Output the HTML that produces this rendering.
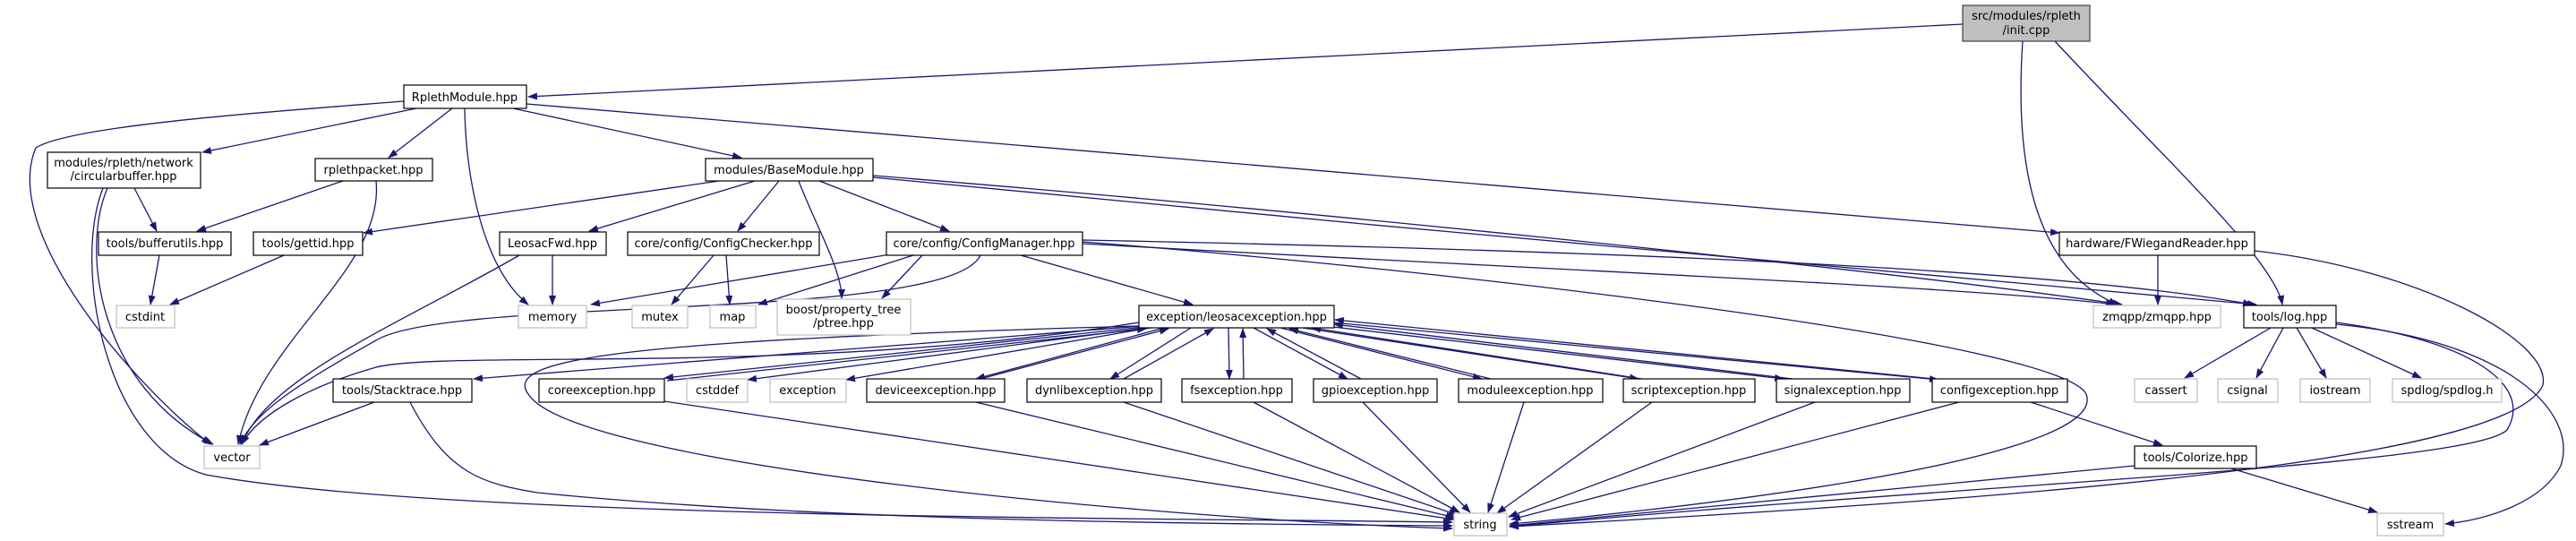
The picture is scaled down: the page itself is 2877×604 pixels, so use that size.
<!DOCTYPE html>
<html><head><meta charset="utf-8"><style>
html,body{margin:0;padding:0;background:#fff;}
svg{display:block}
text{font-family:"DejaVu Sans","Liberation Sans",sans-serif;font-size:13px;fill:#000}
.e{fill:none;stroke:#191970;stroke-width:1.3}
.n{fill:#fff;stroke:#000;stroke-width:1.2}
.g{fill:#fff;stroke:#bfbfbf;stroke-width:1.2}
</style></head><body>
<svg width="2877" height="604" viewBox="0 0 2877 604" xmlns="http://www.w3.org/2000/svg">
<defs><marker id="a" markerWidth="11" markerHeight="8" refX="10" refY="4" orient="auto" markerUnits="userSpaceOnUse"><path d="M0,0 L11,4 L0,8 z" fill="#191970"/></marker></defs>
<g class="e" marker-end="url(#a)">
<path d="M2192,27 L590,108"/>
<path d="M2259,46 C2250,180 2270,300 2365,340"/>
<path d="M2295,46 C2420,180 2540,290 2549,340"/>
<path d="M451,113 C300,125 80,140 40,165 C0,260 150,430 235,496"/>
<path d="M465,121 L226,170"/>
<path d="M505,121 L434,176"/>
<path d="M519,121 C520,200 540,300 590,340"/>
<path d="M573,121 L828,176"/>
<path d="M588,116 L2300,260"/>
<path d="M150,210 L175,258"/>
<path d="M120,210 C90,280 110,430 238,496"/>
<path d="M115,210 C80,300 120,500 230,530 C500,580 1300,578 1622,583"/>
<path d="M383,202 L220,258"/>
<path d="M420,202 C430,300 290,380 266,496"/>
<path d="M178,285 L168,340"/>
<path d="M317,285 L190,340"/>
<path d="M803,202 L406,260"/>
<path d="M843,202 L658,258"/>
<path d="M870,202 L824,258"/>
<path d="M892,202 C910,250 940,300 940,333"/>
<path d="M915,202 L1060,258"/>
<path d="M975,196 C1400,230 2100,300 2370,340"/>
<path d="M975,198 C1500,250 2300,320 2520,340"/>
<path d="M617,285 L617,340"/>
<path d="M580,285 C450,360 300,420 270,496"/>
<path d="M797,285 L750,340"/>
<path d="M811,285 L815,340"/>
<path d="M1000,283 L660,340"/>
<path d="M1020,285 L847,340"/>
<path d="M1030,285 L985,333"/>
<path d="M1140,285 L1332,340"/>
<path d="M1095,285 C1060,360 500,330 420,380 C330,430 285,460 268,496"/>
<path d="M1209,270 C1600,300 2300,380 2330,440 C2360,520 1800,575 1686,585"/>
<path d="M1209,272 C1700,300 2200,320 2362,340"/>
<path d="M1209,268 C1800,280 2300,300 2515,340"/>
<path d="M2410,285 L2410,340"/>
<path d="M2518,280 C2700,300 2850,380 2840,430 C2800,520 2200,560 1686,588"/>
<path d="M2536,366 L2440,422"/>
<path d="M2550,366 L2520,422"/>
<path d="M2565,366 L2598,422"/>
<path d="M2582,366 L2704,422"/>
<path d="M2609,360 C2760,380 2830,430 2800,480 C2760,520 2200,540 1686,588"/>
<path d="M2609,362 C2800,380 2880,460 2860,520 C2840,560 2780,580 2731,585"/>
<path d="M2268,449 L2415,497"/>
<path d="M2384,520 L1686,587"/>
<path d="M2492,523 L2655,572"/>
<path d="M2188,449 L1688,580"/>
<path d="M2027,449 L1685,577"/>
<path d="M1845,449 L1672,573"/>
<path d="M1702,449 L1662,572"/>
<path d="M1522,449 L1642,572"/>
<path d="M1400,449 L1630,572"/>
<path d="M1255,449 L1628,575"/>
<path d="M1090,449 L1625,578"/>
<path d="M742,448 L1624,580"/>
<path d="M458,449 C500,530 540,540 600,550 C900,580 1300,585 1622,587"/>
<path d="M418,449 L290,497"/>
<path d="M1272,364 C700,380 560,400 590,440 C640,520 1300,580 1622,590"/>
<path d="M1272,360 C900,420 500,390 420,410 C350,430 290,460 270,496"/>
<path d="M1275,364 L529,423"/>
<path d="M1278,365 L742,422"/>
<path d="M745,425 L1280,367"/>
<path d="M1280,366 L835,424"/>
<path d="M1285,366 L945,424"/>
<path d="M1300,366 L1090,423"/>
<path d="M1095,423 L1305,367"/>
<path d="M1330,366 L1240,423"/>
<path d="M1255,423 L1355,367"/>
<path d="M1372,366 L1373,423"/>
<path d="M1389,423 L1388,367"/>
<path d="M1400,366 L1505,423"/>
<path d="M1520,423 L1415,367"/>
<path d="M1430,366 L1655,423"/>
<path d="M1665,423 L1440,367"/>
<path d="M1455,366 L1830,423"/>
<path d="M1840,424 L1465,366"/>
<path d="M1480,364 L1992,423"/>
<path d="M2002,423 L1490,362"/>
<path d="M1488,360 L2165,424"/>
<path d="M2170,424 L1491,357"/>
</g>
<g>
<rect x="2192" y="6" width="142" height="40" fill="#bfbfbf" stroke="#404040" stroke-width="1.2"/>
<text x="2263" y="22" text-anchor="middle">src/modules/rpleth</text><text x="2263" y="38" text-anchor="middle">/init.cpp</text>
<rect class="n" x="451" y="95" width="137" height="26"/><text x="519" y="113" text-anchor="middle">RplethModule.hpp</text>
<rect class="n" x="53" y="170" width="171" height="40"/><text x="138" y="186" text-anchor="middle">modules/rpleth/network</text><text x="138" y="201" text-anchor="middle">/circularbuffer.hpp</text>
<rect class="n" x="352" y="177" width="131" height="25"/><text x="417" y="194" text-anchor="middle">rplethpacket.hpp</text>
<rect class="n" x="788" y="177" width="187" height="25"/><text x="881" y="194" text-anchor="middle">modules/BaseModule.hpp</text>
<rect class="n" x="110" y="259" width="148" height="26"/><text x="184" y="276" text-anchor="middle">tools/bufferutils.hpp</text>
<rect class="n" x="283" y="259" width="122" height="26"/><text x="344" y="276" text-anchor="middle">tools/gettid.hpp</text>
<rect class="n" x="558" y="259" width="119" height="26"/><text x="617" y="276" text-anchor="middle">LeosacFwd.hpp</text>
<rect class="n" x="701" y="259" width="214" height="26"/><text x="808" y="276" text-anchor="middle">core/config/ConfigChecker.hpp</text>
<rect class="n" x="990" y="259" width="219" height="26"/><text x="1099" y="276" text-anchor="middle">core/config/ConfigManager.hpp</text>
<rect class="n" x="2300" y="259" width="218" height="26"/><text x="2409" y="276" text-anchor="middle">hardware/FWiegandReader.hpp</text>
<rect class="g" x="130" y="341" width="65" height="25"/><text x="162" y="358" text-anchor="middle" fill="#000">cstdint</text>
<rect class="g" x="579" y="341" width="76" height="25"/><text x="617" y="358" text-anchor="middle">memory</text>
<rect class="g" x="706" y="341" width="62" height="25"/><text x="737" y="358" text-anchor="middle">mutex</text>
<rect class="g" x="793" y="341" width="51" height="25"/><text x="818" y="358" text-anchor="middle">map</text>
<rect class="g" x="868" y="334" width="149" height="40"/><text x="942" y="350" text-anchor="middle">boost/property_tree</text><text x="942" y="365" text-anchor="middle">/ptree.hpp</text>
<rect class="n" x="1272" y="341" width="218" height="25"/><text x="1381" y="358" text-anchor="middle">exception/leosacexception.hpp</text>
<rect class="g" x="2338" y="341" width="142" height="25"/><text x="2409" y="358" text-anchor="middle">zmqpp/zmqpp.hpp</text>
<rect class="n" x="2506" y="341" width="103" height="25"/><text x="2557" y="358" text-anchor="middle">tools/log.hpp</text>
<rect class="n" x="372" y="423" width="155" height="26"/><text x="449" y="440" text-anchor="middle">tools/Stacktrace.hpp</text>
<rect class="n" x="602" y="423" width="140" height="26"/><text x="672" y="440" text-anchor="middle">coreexception.hpp</text>
<rect class="g" x="767" y="423" width="68" height="26"/><text x="801" y="440" text-anchor="middle">cstddef</text>
<rect class="g" x="860" y="423" width="85" height="26"/><text x="902" y="440" text-anchor="middle">exception</text>
<rect class="n" x="968" y="423" width="154" height="26"/><text x="1045" y="440" text-anchor="middle">deviceexception.hpp</text>
<rect class="n" x="1147" y="423" width="150" height="26"/><text x="1222" y="440" text-anchor="middle">dynlibexception.hpp</text>
<rect class="n" x="1320" y="423" width="123" height="26"/><text x="1381" y="440" text-anchor="middle">fsexception.hpp</text>
<rect class="n" x="1467" y="423" width="138" height="26"/><text x="1536" y="440" text-anchor="middle">gpioexception.hpp</text>
<rect class="n" x="1629" y="423" width="161" height="26"/><text x="1709" y="440" text-anchor="middle">moduleexception.hpp</text>
<rect class="n" x="1813" y="423" width="147" height="26"/><text x="1886" y="440" text-anchor="middle">scriptexception.hpp</text>
<rect class="n" x="1984" y="423" width="149" height="26"/><text x="2058" y="440" text-anchor="middle">signalexception.hpp</text>
<rect class="n" x="2158" y="423" width="151" height="26"/><text x="2233" y="440" text-anchor="middle">configexception.hpp</text>
<rect class="g" x="2384" y="423" width="70" height="26"/><text x="2419" y="440" text-anchor="middle">cassert</text>
<rect class="g" x="2477" y="423" width="67" height="26"/><text x="2510" y="440" text-anchor="middle">csignal</text>
<rect class="g" x="2569" y="423" width="78" height="26"/><text x="2608" y="440" text-anchor="middle">iostream</text>
<rect class="g" x="2672" y="423" width="122" height="26"/><text x="2733" y="440" text-anchor="middle">spdlog/spdlog.h</text>
<rect class="g" x="228" y="498" width="62" height="25"/><text x="259" y="515" text-anchor="middle">vector</text>
<rect class="n" x="2384" y="498" width="136" height="25"/><text x="2452" y="515" text-anchor="middle">tools/Colorize.hpp</text>
<rect class="g" x="1624" y="573" width="59" height="25"/><text x="1653" y="590" text-anchor="middle">string</text>
<rect class="g" x="2655" y="573" width="74" height="25"/><text x="2692" y="590" text-anchor="middle">sstream</text>
</g>
</svg>
</body></html>
